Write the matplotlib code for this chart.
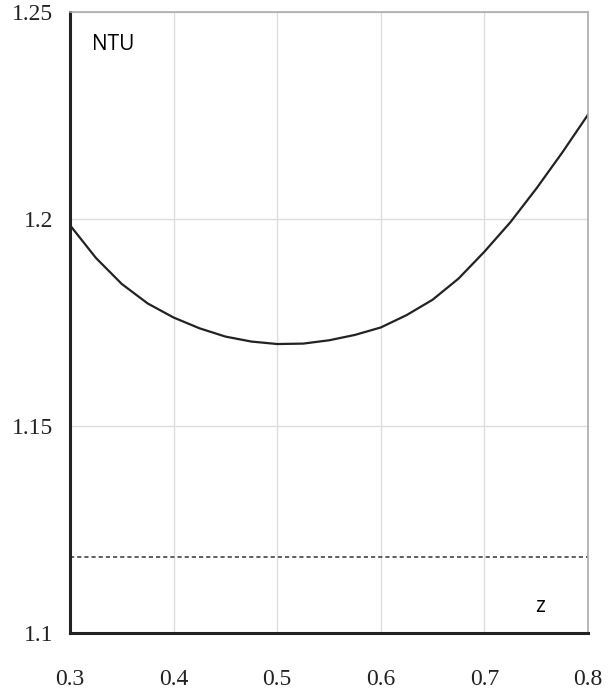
import matplotlib
matplotlib.use("Agg")
import matplotlib.pyplot as plt

# Data
z_vals = [0.300, 0.325, 0.350, 0.375, 0.400, 0.425, 0.450, 0.475, 0.500, 0.525,
          0.550, 0.575, 0.600, 0.625, 0.650, 0.675, 0.700, 0.725, 0.750, 0.775, 0.800]
ntu_vals = [1.1985, 1.1906, 1.1843, 1.1796, 1.1762, 1.1736, 1.1716, 1.1704, 1.1698, 1.1699,
            1.1707, 1.1720, 1.1738, 1.1768, 1.1805, 1.1856, 1.1921, 1.1992, 1.2073, 1.2160, 1.2252]
ref_level = 1.1184

x_ticks = [0.3, 0.4, 0.5, 0.6, 0.7, 0.8]
x_labels = ["0.3", "0.4", "0.5", "0.6", "0.7", "0.8"]
y_ticks = [1.1, 1.15, 1.2, 1.25]
y_labels = ["1.1", "1.15", "1.2", "1.25"]

fig = plt.figure(figsize=(6.08, 6.91), dpi=100)
ax = fig.add_axes([70/608, (691-633)/691, (588-70)/608, (633-12)/691])

ax.plot(z_vals, ntu_vals, color="#222222", lw=1.6, solid_joinstyle="round")
ax.axhline(ref_level, color="#444444", lw=1.2, ls=(0, (2.5, 1.8)))

ax.set_xlim(0.3, 0.8)
ax.set_ylim(1.1, 1.25)
ax.set_xticks(x_ticks)
ax.set_xticklabels(x_labels)
ax.set_yticks(y_ticks)
ax.set_yticklabels(y_labels)
ax.grid(True, color="#dddddd", lw=1.0)
ax.set_axisbelow(True)
ax.tick_params(length=0, labelsize=17, colors="#222222")
ax.tick_params(axis="x", pad=26)
ax.tick_params(axis="y", pad=12)
for lab in ax.get_xticklabels() + ax.get_yticklabels():
    lab.set_fontfamily("Liberation Serif")

for s in ["left", "bottom"]:
    ax.spines[s].set_color("#222222")
    ax.spines[s].set_linewidth(2.2)
for s in ["top", "right"]:
    ax.spines[s].set_color("#aaaaaa")
    ax.spines[s].set_linewidth(1.2)

fig.text(92/608, 1 - 45/691, "NTU", fontsize=15,
         fontfamily="Open Sans", ha="left", va="center", color="black")
fig.text(540/608, 1 - 607/691, "z", fontsize=15,
         fontfamily="Open Sans", ha="center", va="center", color="black")

fig.savefig("out.png", dpi=100, facecolor="white")
